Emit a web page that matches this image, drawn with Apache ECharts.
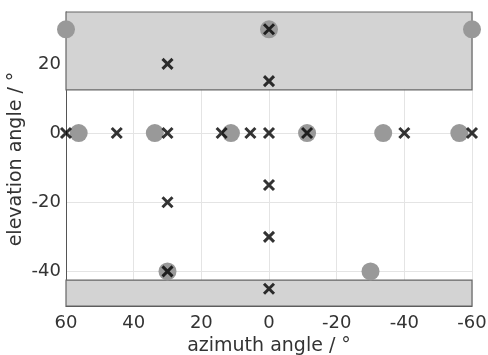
<!DOCTYPE html>
<html><head><meta charset="utf-8">
<script src="https://cdn.jsdelivr.net/npm/echarts@6/dist/echarts.min.js"></script>
<style>html,body{margin:0;padding:0;background:#fff}#c{width:488px;height:355px}</style>
</head><body><div id="c"></div>
<script>
// Loudspeaker positions (gray circles): [azimuth, elevation]
var speakerAz = [60, 0, -60, 56.25, 33.75, 11.25, -11.25, -33.75, -56.25, 30, -30];
var speakerEl = [30, 30, 30, 0, 0, 0, 0, 0, 0, -40, -40];
// Target positions (black crosses): [azimuth, elevation]
var targetAz = [30, 0, 0, 60, 45, 30, 14, 5.5, 0, -11.25, -40, -60, 0, 30, 0, 30, 0];
var targetEl = [20, 30, 15, 0, 0, 0, 0, 0, 0, 0, 0, 0, -15, -20, -30, -40, -45];
// Shaded regions: [x1, y1, x2, y2]
var topRegion = [60, 12.5, -60, 35];
var bottomRegion = [60, -50, -60, -42.5];
var xTicks = [60, 40, 20, 0, -20, -40, -60];
var yTicks = [-40, -20, 0, 20];

var font = 'DejaVu Sans';
var txt = '#333333';
function zip(a, b) { return a.map(function (v, i) { return [v, b[i]]; }); }

var chart = echarts.init(document.getElementById('c'));
chart.setOption({
  animation: false,
  grid: { left: 66, right: 16, top: 12, bottom: 49, outerBoundsMode: 'none', containLabel: false },
  xAxis: {
    type: 'value', inverse: true, min: -60, max: 60, interval: 20,
    name: 'azimuth angle / °', nameLocation: 'middle', nameGap: 31, nameMoveOverlap: false,
    nameTextStyle: { fontFamily: font, fontSize: 19, color: txt },
    axisLine: { show: true, onZero: false, lineStyle: { color: '#555', width: 1 } },
    axisTick: { show: false },
    axisLabel: { fontFamily: font, fontSize: 18, color: txt, margin: 8,
      customValues: xTicks },
    splitLine: { show: true, lineStyle: { color: '#e4e4e4', width: 1 } }
  },
  yAxis: {
    type: 'value', min: -50, max: 35,
    name: 'elevation angle / °', nameLocation: 'middle', nameGap: 40, nameMoveOverlap: false,
    nameTextStyle: { fontFamily: font, fontSize: 19, color: txt },
    axisLine: { show: true, onZero: false, lineStyle: { color: '#555', width: 1 } },
    axisTick: { show: false, customValues: yTicks },
    axisLabel: { fontFamily: font, fontSize: 18, color: txt, margin: 5,
      customValues: yTicks },
    splitLine: { show: false }
  },
  series: [
    {
      type: 'scatter', data: [], silent: true, z: 0,
      markLine: {
        silent: true, symbol: 'none', label: { show: false }, z: 0,
        lineStyle: { color: '#e4e4e4', width: 1, type: 'solid' },
        data: yTicks.map(function (v) { return { yAxis: v }; })
      }
    },
    {
      type: 'scatter', data: [], silent: true, z: 1,
      markArea: {
        silent: true, z: 1,
        itemStyle: { color: '#d3d3d3', borderColor: '#666', borderWidth: 1.2 },
        data: [
          [{ coord: [topRegion[0], topRegion[1]] }, { coord: [topRegion[2], topRegion[3]] }],
          [{ coord: [bottomRegion[0], bottomRegion[1]] }, { coord: [bottomRegion[2], bottomRegion[3]] }]
        ]
      }
    },
    {
      type: 'scatter', z: 3, symbol: 'circle', symbolSize: 18,
      itemStyle: { color: '#999999', opacity: 1 },
      data: zip(speakerAz, speakerEl)
    },
    {
      type: 'scatter', z: 4, symbol: 'path://M0,0L10,10M0,10L10,0', symbolSize: 10,
      itemStyle: { color: 'rgba(0,0,0,0)', borderColor: '#000', borderWidth: 3 },
      data: zip(targetAz, targetEl)
    }
  ]
});
</script></body></html>
